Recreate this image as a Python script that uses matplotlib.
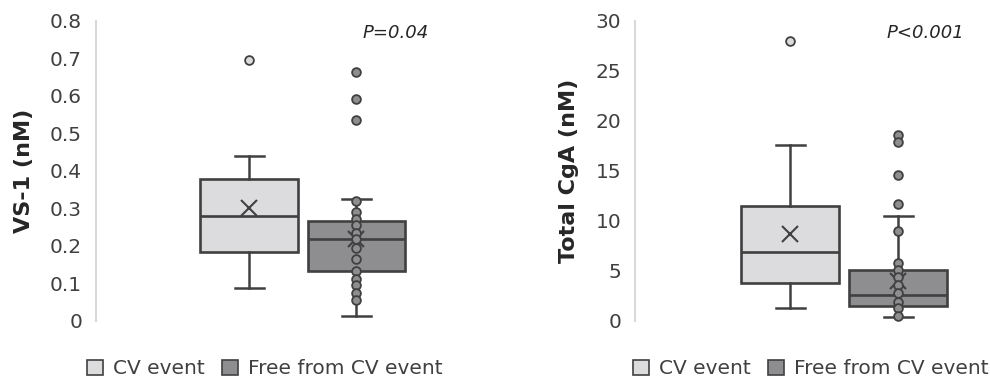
import matplotlib
matplotlib.use("Agg")
import matplotlib.pyplot as plt
from matplotlib.patches import Patch

# -------- data -----------------------------------------------------------
groups = ["CV event", "Free from CV event"]

# VS-1 (nM)
vs1_low = [0.088, 0.012]
vs1_q1 = [0.184, 0.134]
vs1_med = [0.280, 0.218]
vs1_q3 = [0.379, 0.266]
vs1_high = [0.440, 0.325]
vs1_mean = [0.301, 0.218]
vs1_outliers = [[0.696], [0.663, 0.592, 0.536]]
vs1_inner = [[], [0.320, 0.291, 0.272, 0.256, 0.235, 0.219, 0.195,
                  0.165, 0.133, 0.112, 0.096, 0.075, 0.056]]

# Total CgA (nM)
cga_low = [1.3, 0.4]
cga_q1 = [3.8, 1.5]
cga_med = [6.9, 2.6]
cga_q3 = [11.5, 5.1]
cga_high = [17.6, 10.5]
cga_mean = [8.7, 4.0]
cga_outliers = [[28.0], [18.6, 17.9, 14.6, 11.7]]
cga_inner = [[], [9.0, 5.8, 5.1, 4.4, 3.6, 2.8, 1.9, 1.3, 0.5]]

vs1_ticks = [0, 0.1, 0.2, 0.3, 0.4, 0.5, 0.6, 0.7, 0.8]
vs1_ticklabels = ["0", "0.1", "0.2", "0.3", "0.4", "0.5", "0.6", "0.7", "0.8"]
cga_ticks = [0, 5, 10, 15, 20, 25, 30]

# -------- style ----------------------------------------------------------
plt.rcParams["font.family"] = ["DejaVu Sans"]
fills = ["#dcdcde", "#8e8e90"]
edge = "#404040"
txt = "#404040"


def draw_panel(ax, low, q1, med, q3, high, mean, outliers, inner,
               ylim, ticks, ticklabels, ylabel, ptext, px, xlim):
    stats = []
    for i in range(len(groups)):
        stats.append(dict(med=med[i], q1=q1[i], q3=q3[i],
                          whislo=low[i], whishi=high[i],
                          mean=mean[i], fliers=[], label=groups[i]))
    pos = [1, 2]
    bp = ax.bxp(stats, positions=pos, widths=0.91, patch_artist=True,
                showmeans=True, showfliers=False,
                boxprops=dict(edgecolor=edge, linewidth=1.9),
                medianprops=dict(color=edge, linewidth=1.9),
                whiskerprops=dict(color=edge, linewidth=1.8),
                capprops=dict(color=edge, linewidth=1.8),
                capwidths=0.27,
                meanprops=dict(marker="x", markeredgecolor=edge,
                               markersize=11, markeredgewidth=1.5))
    for patch, c in zip(bp["boxes"], fills):
        patch.set_facecolor(c)
    for i, p in enumerate(pos):
        pts = outliers[i] + inner[i]
        ax.plot([p] * len(pts), pts, linestyle="none", marker="o",
                markersize=6.3, markerfacecolor=fills[i],
                markeredgecolor=edge, markeredgewidth=1.3, zorder=4)

    ax.set_xlim(*xlim)
    ax.set_ylim(*ylim)
    ax.set_xticks([])
    ax.set_yticks(ticks)
    ax.set_yticklabels(ticklabels)
    ax.tick_params(axis="y", length=0, pad=10, labelsize=14.5, labelcolor=txt)
    for s in ["top", "right", "bottom"]:
        ax.spines[s].set_visible(False)
    ax.spines["left"].set_color("#d9d9d9")
    ax.spines["left"].set_linewidth(1.5)
    ax.set_ylabel(ylabel, fontsize=16, fontweight="bold", color="#262626")
    ax.text(px, 0.96, ptext, transform=ax.transAxes, ha="center",
            va="center", fontsize=13, style="italic", color="#262626")


fig = plt.figure(figsize=(9.9, 3.78), dpi=100)
ax1 = fig.add_axes([96 / 990, 0.1508, 374 / 990, 0.7937])
ax2 = fig.add_axes([635 / 990, 0.1508, 340 / 990, 0.7937])

draw_panel(ax1, vs1_low, vs1_q1, vs1_med, vs1_q3, vs1_high, vs1_mean,
           vs1_outliers, vs1_inner, (0, 0.8), vs1_ticks, vs1_ticklabels,
           "VS-1 (nM)", "P=0.04", 0.802, (-0.43, 3.06))
draw_panel(ax2, cga_low, cga_q1, cga_med, cga_q3, cga_high, cga_mean,
           cga_outliers, cga_inner, (0, 30), cga_ticks,
           [str(t) for t in cga_ticks], "Total CgA (nM)", "P<0.001", 0.853,
           (-0.435, 2.71))
ax1.yaxis.set_label_coords(-0.166, 0.5)
ax2.yaxis.set_label_coords(-0.165, 0.5)

# legends under each panel
handles = [Patch(facecolor=c, edgecolor=edge, linewidth=1.2) for c in fills]
for x0 in [87 / 990, 633 / 990]:
    fig.legend(handles, groups, loc="center left",
               bbox_to_anchor=(x0, 1 - 369 / 378), ncol=2, frameon=False,
               fontsize=14.5, labelcolor=txt, borderpad=0, borderaxespad=0,
               handlelength=0.8, handleheight=0.8, handletextpad=0.5,
               columnspacing=0.85)

fig.savefig("out.png", dpi=100)
